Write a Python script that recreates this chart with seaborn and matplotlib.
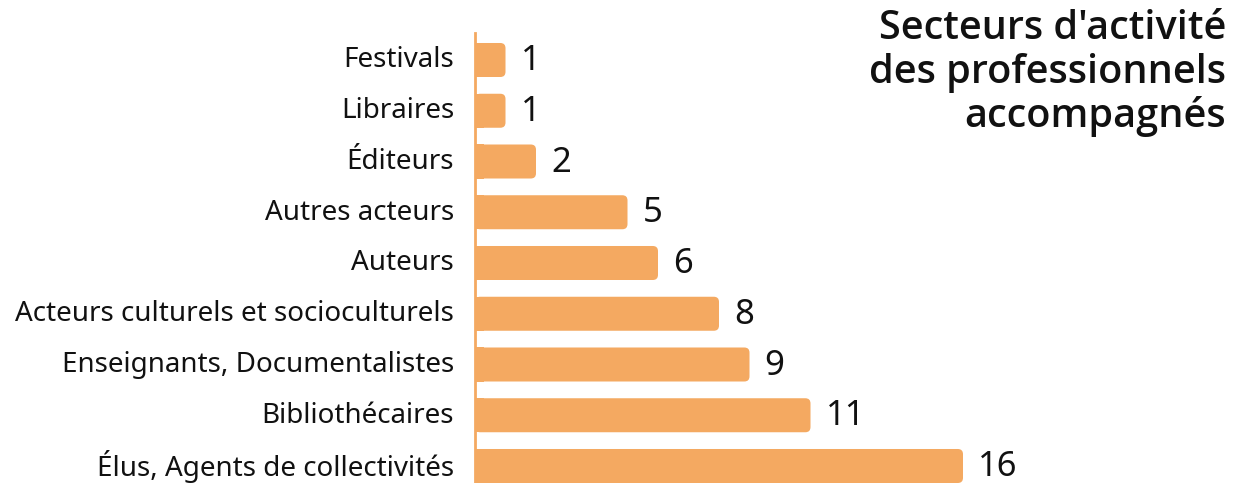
import matplotlib
matplotlib.use("Agg")
import matplotlib.pyplot as plt
import matplotlib.transforms as mtransforms
from matplotlib.patches import FancyBboxPatch, Rectangle
import seaborn as sns
import pandas as pd

categories = [
    "Festivals",
    "Libraires",
    "Éditeurs",
    "Autres acteurs",
    "Auteurs",
    "Acteurs culturels et socioculturels",
    "Enseignants, Documentalistes",
    "Bibliothécaires",
    "Élus, Agents de collectivités",
]
values = [1, 1, 2, 5, 6, 8, 9, 11, 16]
title = "Secteurs d'activité\ndes professionnels\naccompagnés"

bar_color = "#F4A961"

sns.set_theme(style="white")
plt.rcParams["font.family"] = ["Noto Sans", "DejaVu Sans"]

df = pd.DataFrame({"secteur": categories, "nombre": values})

fig = plt.figure(figsize=(12.45, 4.83), dpi=100)
ax = fig.add_axes([475 / 1245, 0.0, 1 - 475 / 1245, (483 - 33) / 483])

sns.barplot(data=df, y="secteur", x="nombre", orient="h", color=bar_color,
            width=0.67, saturation=1, ax=ax)

# Replace the flat bars with bars rounded on their right end
for p in list(ax.patches):
    x0, y0 = p.get_x(), p.get_y()
    w, h = p.get_width(), p.get_height()
    p.remove()
    ax.add_patch(FancyBboxPatch((x0, y0), w, h,
                                boxstyle="round,pad=0,rounding_size=0.17",
                                mutation_aspect=0.6, fc=bar_color, ec="none"))
    ax.add_patch(Rectangle((x0, y0), min(0.3, w / 2), h, fc=bar_color, ec="none"))

for i, v in enumerate(values):
    ax.text(v + 0.5, i + 0.02, str(v), va="center", ha="left", fontsize=25,
            color="#111111")

ax.set_xlim(0, (1245 - 475) / 30.5)
ax.set_ylim(8.335, -0.532)
ax.set_xlabel("")
ax.set_ylabel("")
ax.set_xticks([])
ax.tick_params(axis="y", length=0, pad=15, labelsize=20, labelcolor="#111111")

# lift the category labels a little above the bar centres
lift = mtransforms.ScaledTranslation(0, 3 / 100, fig.dpi_scale_trans)
for lbl in ax.get_yticklabels():
    lbl.set_transform(lbl.get_transform() + lift)

for s in ["top", "right", "bottom"]:
    ax.spines[s].set_visible(False)
ax.spines["left"].set_color(bar_color)
ax.spines["left"].set_linewidth(2)

fig.text(1226 / 1245, 1 - 9 / 483, title, ha="right", va="top", fontsize=28.5,
         family=["Open Sans", "DejaVu Sans"], fontweight=600,
         linespacing=1.12, color="#111111")

fig.savefig("out.png", dpi=100)
